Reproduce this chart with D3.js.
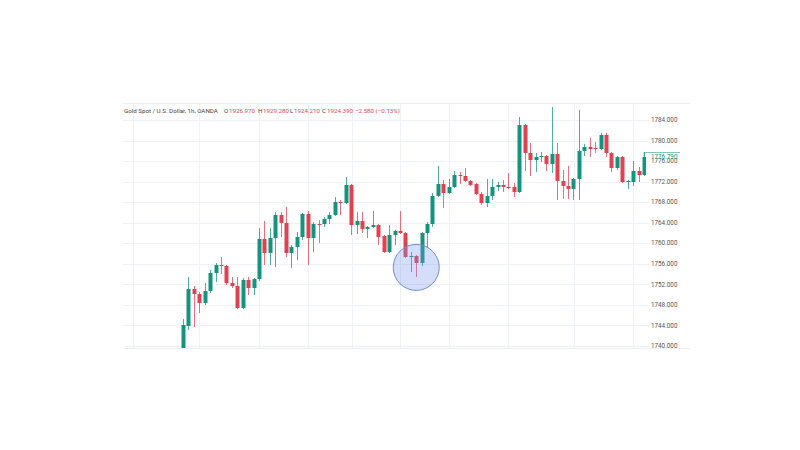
<!DOCTYPE html>
<html>
<head>
<meta charset="utf-8">
<script src="https://cdn.jsdelivr.net/npm/d3@7/dist/d3.min.js"></script>
<style>
  html, body { margin: 0; padding: 0; background: #ffffff; }
  svg { display: block; }
</style>
</head>
<body>
<svg id="chart" width="800" height="450"></svg>
<script>
// ---- data (hourly bars, index 0..86) ----
const bars = d3.range(0, 87);
const open  = [1736.50,1738.83,1743.89,1751.10,1750.12,1748.37,1750.71,1754.21,1755.77,1755.58,1752.27,1751.68,1747.40,1752.85,1751.29,1753.04,1760.83,1758.11,1761.03,1765.51,1763.95,1758.11,1759.28,1761.22,1765.70,1761.03,1763.75,1763.75,1764.73,1765.51,1768.04,1767.84,1771.35,1763.56,1764.34,1762.78,1763.17,1763.56,1761.42,1758.30,1761.61,1762.39,1762.00,1757.33,1757.52,1756.16,1762.00,1763.75,1769.21,1771.54,1769.79,1770.96,1773.29,1773.10,1772.13,1771.54,1769.59,1767.84,1769.21,1770.96,1771.35,1770.96,1770.96,1769.98,1783.03,1777.58,1776.21,1776.80,1776.99,1775.44,1777.38,1772.13,1771.15,1770.57,1772.51,1777.97,1778.75,1778.55,1778.36,1781.08,1777.58,1774.66,1776.80,1771.93,1771.93,1774.07,1773.29];
const high  = [1739.60,1745.26,1753.43,1751.68,1750.51,1752.27,1754.80,1756.16,1757.33,1755.77,1753.43,1753.43,1753.24,1753.43,1753.24,1762.97,1764.34,1762.97,1766.09,1766.09,1767.06,1759.66,1762.20,1765.90,1766.28,1764.14,1764.53,1765.12,1766.09,1769.01,1768.43,1772.90,1771.54,1766.09,1766.09,1763.36,1766.28,1763.75,1761.61,1763.56,1762.59,1766.28,1762.20,1758.30,1757.72,1762.20,1764.14,1769.79,1775.05,1772.32,1772.51,1774.07,1773.88,1774.66,1772.32,1771.74,1769.98,1772.51,1772.51,1771.93,1772.32,1773.68,1771.74,1784.59,1783.22,1779.52,1777.58,1777.77,1777.19,1786.53,1779.52,1774.27,1775.05,1772.71,1785.95,1779.33,1780.50,1779.72,1781.47,1781.47,1777.77,1776.99,1776.99,1772.32,1776.02,1774.85,1777.77];
const low   = [1735.50,1738.50,1743.12,1743.70,1746.43,1747.98,1750.32,1752.46,1754.02,1751.88,1751.29,1747.20,1747.20,1749.93,1749.93,1752.66,1755.77,1755.77,1755.38,1761.22,1757.33,1755.19,1756.74,1760.64,1755.77,1758.30,1760.05,1763.17,1763.75,1765.31,1765.51,1767.65,1761.61,1761.81,1762.00,1761.03,1762.97,1759.66,1758.11,1758.11,1759.66,1761.81,1757.13,1754.41,1753.43,1755.58,1759.28,1763.17,1769.01,1766.87,1769.59,1770.76,1771.54,1771.93,1771.15,1769.40,1767.45,1767.06,1768.43,1770.18,1769.98,1770.57,1769.01,1769.79,1774.07,1773.10,1773.88,1775.82,1774.07,1773.68,1768.43,1768.62,1768.62,1768.43,1768.43,1776.99,1776.80,1777.58,1778.16,1776.80,1773.88,1774.27,1771.74,1770.57,1771.15,1771.93,1773.10];
const close = [1739.00,1744.09,1751.10,1750.12,1748.37,1750.71,1754.21,1755.77,1755.58,1752.27,1751.68,1747.40,1752.85,1751.29,1753.04,1760.83,1758.11,1761.03,1765.51,1763.95,1758.11,1759.28,1761.22,1765.70,1761.03,1763.75,1763.56,1764.73,1765.51,1768.04,1767.84,1771.35,1763.56,1764.34,1762.78,1763.17,1763.56,1761.22,1758.30,1761.61,1762.39,1762.00,1757.33,1757.52,1756.16,1762.00,1763.75,1769.21,1771.54,1769.79,1770.96,1773.29,1773.10,1772.13,1771.35,1769.59,1767.84,1769.21,1770.96,1771.35,1770.96,1770.76,1769.98,1783.03,1777.58,1776.21,1776.80,1776.99,1775.44,1777.38,1772.13,1771.15,1770.57,1772.51,1777.97,1778.75,1778.36,1778.36,1781.08,1777.58,1774.66,1776.80,1771.93,1772.13,1774.07,1773.29,1776.79];

const priceTicks = [1784,1780,1776,1772,1768,1764,1760,1756,1752,1748,1744,1740];
const timeGridBars = [-8.2, 4, 15, 24, 32.2, 41, 50.1, 61, 73.1, 84];
const lastPrice = 1776.79;
const highlightBar = 44, highlightPrice = 1755.3;

const titleParts = [
  {t: "Gold Spot / U.S. Dollar, 1h, OANDA", c: "#444"},
  {t: "O", c: "#444"}, {t: "1926.970", c: "#e0475a"},
  {t: "H", c: "#444"}, {t: "1929.280", c: "#e0475a"},
  {t: "L", c: "#444"}, {t: "1924.210", c: "#e0475a"},
  {t: "C", c: "#444"}, {t: "1924.390", c: "#e0475a"},
  {t: "\u22122.580 (\u22120.13%)", c: "#e0475a"}
];
const titleX = [124, 224, 229, 258, 263, 290, 294, 322, 327, 355];

(function draw() {
  const UP = "#15937e", DOWN = "#e2414f";
  const pL = 123, pR = 646, pT = 103, pB = 349;
  const svg = d3.select("#chart");

  const x = d3.scaleLinear().domain([1, 86]).range([183, 644]);
  const y = d3.scaleLinear().domain([1740, 1784]).range([346, 120]);

  const defs = svg.append("defs");
  defs.append("clipPath").attr("id", "clip")
    .append("rect").attr("x", pL).attr("y", pT).attr("width", 690 - pL).attr("height", pB - pT);
  defs.append("clipPath").attr("id", "plotclip")
    .append("rect").attr("x", pL).attr("y", pT).attr("width", pR - pL).attr("height", pB - pT);

  const g = svg.append("g").attr("clip-path", "url(#clip)");

  // horizontal grid
  g.append("g").selectAll("line").data(priceTicks).join("line")
    .attr("x1", pL).attr("x2", pR + 4)
    .attr("y1", d => Math.round(y(d)) + 0.5).attr("y2", d => Math.round(y(d)) + 0.5)
    .attr("stroke", "#eef1f5").attr("stroke-width", 1);

  // vertical grid
  g.append("g").selectAll("line").data(timeGridBars).join("line")
    .attr("x1", d => Math.round(x(d)) + 0.5).attr("x2", d => Math.round(x(d)) + 0.5)
    .attr("y1", pT).attr("y2", pB)
    .attr("stroke", "#eef1f5").attr("stroke-width", 1);

  // top and bottom borders
  svg.append("line").attr("x1", pL).attr("x2", 690).attr("y1", pT + 0.5).attr("y2", pT + 0.5)
    .attr("stroke", "#eceff3");
  svg.append("line").attr("x1", pL).attr("x2", 690).attr("y1", pB - 0.5).attr("y2", pB - 0.5)
    .attr("stroke", "#eceff3");

  // candles
  const pc = g.append("g").attr("clip-path", "url(#plotclip)");
  const cand = pc.selectAll("g.c").data(bars).join("g").attr("class", "c");
  const col = i => close[i] >= open[i] ? UP : DOWN;
  cand.append("line")
    .attr("x1", i => Math.round(x(i)) + 0.5).attr("x2", i => Math.round(x(i)) + 0.5)
    .attr("y1", i => y(high[i])).attr("y2", i => y(low[i]))
    .attr("stroke", col).attr("stroke-opacity", 0.75).attr("stroke-width", 1);
  cand.append("rect")
    .attr("x", i => Math.round(x(i)) - 1.5).attr("width", 4)
    .attr("y", i => y(Math.max(open[i], close[i])))
    .attr("height", i => Math.max(1, Math.abs(y(open[i]) - y(close[i]))))
    .attr("fill", col);

  // highlight circle
  svg.append("circle")
    .attr("cx", x(highlightBar)).attr("cy", y(highlightPrice)).attr("r", 23)
    .attr("fill", "rgba(120,150,235,0.32)").attr("stroke", "#6f8fd0").attr("stroke-width", 1);

  // price axis labels
  g.append("g").selectAll("text").data(priceTicks).join("text")
    .attr("x", 651).attr("y", d => y(d) + 2.2)
    .attr("font-family", "Roboto, 'Liberation Sans', sans-serif").attr("font-size", 6.3)
    .attr("fill", "#555").text(d => d3.format(".3f")(d));

  // last price label
  const ly = y(lastPrice);
  svg.append("line").attr("x1", 644).attr("x2", 680).attr("y1", ly - 4.5).attr("y2", ly - 4.5)
    .attr("stroke", UP).attr("stroke-width", 0.8).attr("stroke-opacity", 0.7);
  svg.append("line").attr("x1", 644).attr("x2", 644).attr("y1", ly - 4.5).attr("y2", ly + 3)
    .attr("stroke", UP).attr("stroke-width", 0.8).attr("stroke-opacity", 0.7);
  svg.append("text").attr("x", 651).attr("y", ly + 1.5)
    .attr("font-family", "Roboto, 'Liberation Sans', sans-serif").attr("font-size", 6.3)
    .attr("fill", UP).text(d3.format(".3f")(lastPrice));

  // header
  svg.append("g").selectAll("text").data(titleParts).join("text")
    .attr("x", (d, i) => titleX[i]).attr("y", 113)
    .attr("font-family", "Roboto, 'Liberation Sans', sans-serif").attr("font-size", 6.2)
    .attr("fill", d => d.c).text(d => d.t);
})();
</script>
</body>
</html>
